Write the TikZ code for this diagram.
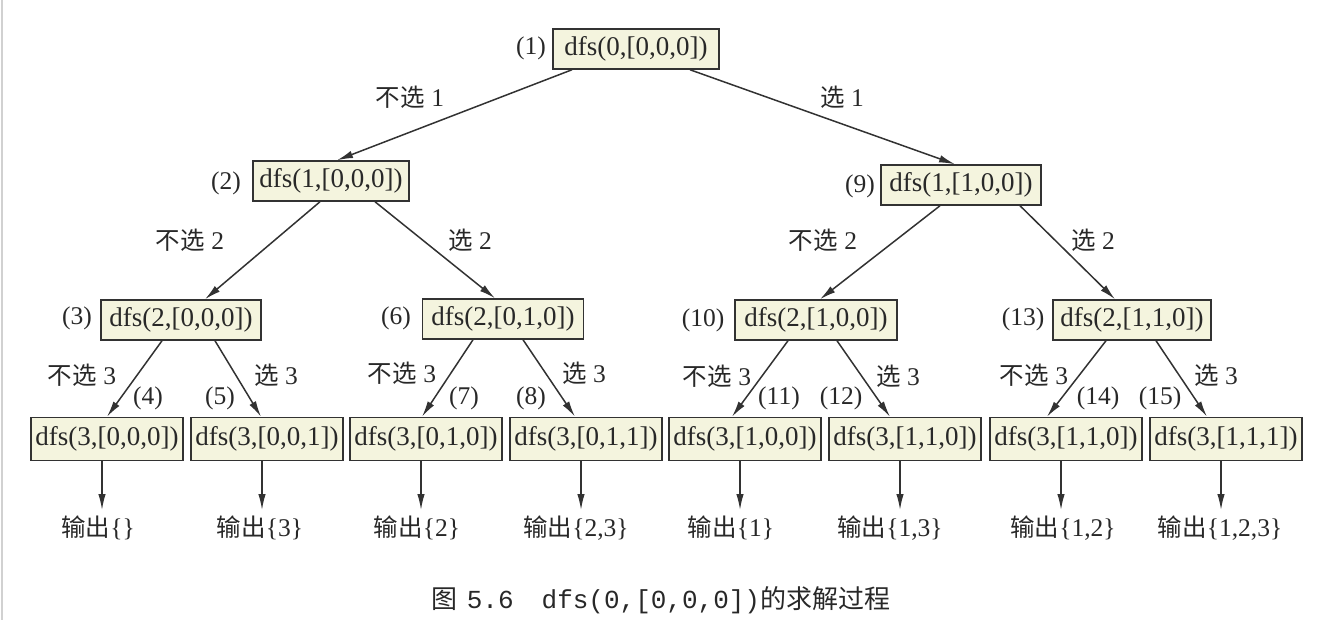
\documentclass[tikz,border=0pt]{standalone}
\usepackage{fontspec}
\setmainfont{Liberation Serif}
\newfontfamily\cjk{Noto Sans CJK SC}
\newfontfamily\monof{Liberation Mono}
\usetikzlibrary{arrows.meta}
\definecolor{linec}{RGB}{50,50,50}
\definecolor{textc}{RGB}{40,40,40}
\definecolor{boxfill}{RGB}{244,244,222}
\tikzset{
  dfsbox/.style={draw=linec, fill=boxfill, line width=1.5pt, inner xsep=0pt, inner ysep=0pt,
    minimum height=40pt, text=textc, font=\fontsize{27}{30}\selectfont},
  leafbox/.style={dfsbox, minimum width=152pt, minimum height=43pt},
  numlab/.style={text=textc, font=\fontsize{25.5}{28}\selectfont, inner sep=0pt},
  edgelab/.style={text=textc, font=\fontsize{25.5}{28}\selectfont, inner sep=0pt},
  outlab/.style={text=textc, font=\fontsize{25.5}{28}\selectfont, inner sep=0pt},
  conn/.style={draw=linec, line width=1.5pt, -{Latex[length=16pt,width=7.5pt]}},
}
\newcommand{\cj}[1]{{\cjk\fontsize{24.5}{28}\selectfont #1}}
\begin{document}
\begin{tikzpicture}[x=1pt,y=-1pt]
\useasboundingbox (0,0) rectangle (1320,620);
\draw[black!18, line width=2pt] (2,0) -- (2,620);
% tree nodes
\node[dfsbox, minimum width=166pt] (n1) at (636,49) {dfs(0,[0,0,0])};
\node[dfsbox, minimum width=156pt] (n2) at (331,181) {dfs(1,[0,0,0])};
\node[dfsbox, minimum width=160pt] (n9) at (961,185) {dfs(1,[1,0,0])};
\node[dfsbox, minimum width=160pt] (n3) at (181,320) {dfs(2,[0,0,0])};
\node[dfsbox, minimum width=161pt] (n6) at (503,319) {dfs(2,[0,1,0])};
\node[dfsbox, minimum width=162pt] (n10) at (816,320) {dfs(2,[1,0,0])};
\node[dfsbox, minimum width=158pt] (n13) at (1132,320) {dfs(2,[1,1,0])};
\node[leafbox] (n4) at (107,439) {dfs(3,[0,0,0])};
\node[leafbox] (n5) at (267,439) {dfs(3,[0,0,1])};
\node[leafbox] (n7) at (426,439) {dfs(3,[0,1,0])};
\node[leafbox] (n8) at (586,439) {dfs(3,[0,1,1])};
\node[leafbox] (n11) at (745,439) {dfs(3,[1,0,0])};
\node[leafbox] (n12) at (905,439) {dfs(3,[1,1,0])};
\node[leafbox] (n14) at (1066,439) {dfs(3,[1,1,0])};
\node[leafbox] (n15) at (1226,439) {dfs(3,[1,1,1])};
% number labels
\node[numlab] (l1) at (531,48) {(1)};
\node[numlab] (l2) at (226,183) {(2)};
\node[numlab] (l9) at (860,186) {(9)};
\node[numlab] (l3) at (77,318) {(3)};
\node[numlab] (l6) at (396,318) {(6)};
\node[numlab] (l10) at (703,320) {(10)};
\node[numlab] (l13) at (1023,319) {(13)};
\node[numlab] (l4) at (148,398) {(4)};
\node[numlab] (l5) at (220,398) {(5)};
\node[numlab] (l7) at (464,398) {(7)};
\node[numlab] (l8) at (531,398) {(8)};
\node[numlab] (l11) at (779,398) {(11)};
\node[numlab] (l12) at (841,398) {(12)};
\node[numlab] (l14) at (1098,398) {(14)};
\node[numlab] (l15) at (1160,398) {(15)};
% edge labels
\node[edgelab] (e12) at (410,97) {\cj{不选} 1};
\node[edgelab] (e19) at (842,97) {\cj{选} 1};
\node[edgelab] (e23) at (190,240) {\cj{不选} 2};
\node[edgelab] (e26) at (470,240) {\cj{选} 2};
\node[edgelab] (e910) at (823,240) {\cj{不选} 2};
\node[edgelab] (e913) at (1093,240) {\cj{选} 2};
\node[edgelab] (e34) at (82,375) {\cj{不选} 3};
\node[edgelab] (e35) at (276,375) {\cj{选} 3};
\node[edgelab] (e67) at (402,373) {\cj{不选} 3};
\node[edgelab] (e68) at (584,373) {\cj{选} 3};
\node[edgelab] (e1011) at (717,376) {\cj{不选} 3};
\node[edgelab] (e1012) at (898,376) {\cj{选} 3};
\node[edgelab] (e1314) at (1034,375) {\cj{不选} 3};
\node[edgelab] (e1315) at (1216,375) {\cj{选} 3};
% outputs
\node[outlab] (o4) at (98,528) {\cj{输出}\{\}};
\node[outlab] (o5) at (260,528) {\cj{输出}\{3\}};
\node[outlab] (o7) at (417,528) {\cj{输出}\{2\}};
\node[outlab] (o8) at (576,528) {\cj{输出}\{2,3\}};
\node[outlab] (o11) at (731,528) {\cj{输出}\{1\}};
\node[outlab] (o12) at (890,528) {\cj{输出}\{1,3\}};
\node[outlab] (o14) at (1063,528) {\cj{输出}\{1,2\}};
\node[outlab] (o15) at (1220,528) {\cj{输出}\{1,2,3\}};
% connectors
\draw[conn] ([xshift=-64pt]n1.south) -- ([xshift=6pt]n2.north);
\draw[conn] ([xshift=54pt]n1.south) -- ([xshift=-6pt]n9.north);
\draw[conn] ([xshift=-11pt]n2.south) -- ([xshift=24pt]n3.north);
\draw[conn] ([xshift=44pt]n2.south) -- ([xshift=-8pt]n6.north);
\draw[conn] ([xshift=-21pt]n9.south) -- ([xshift=4pt]n10.north);
\draw[conn] ([xshift=59pt]n9.south) -- ([xshift=-17pt]n13.north);
\draw[conn] ([xshift=-19pt]n3.south) -- ([xshift=0pt]n4.north);
\draw[conn] ([xshift=34pt]n3.south) -- ([xshift=-6pt]n5.north);
\draw[conn] ([xshift=-30pt]n6.south) -- ([xshift=-4pt]n7.north);
\draw[conn] ([xshift=20pt]n6.south) -- ([xshift=-11pt]n8.north);
\draw[conn] ([xshift=-28pt]n10.south) -- ([xshift=-13pt]n11.north);
\draw[conn] ([xshift=21pt]n10.south) -- ([xshift=-15pt]n12.north);
\draw[conn] ([xshift=-26pt]n13.south) -- ([xshift=-19pt]n14.north);
\draw[conn] ([xshift=24pt]n13.south) -- ([xshift=-19pt]n15.north);
\foreach \a/\b in {n4/o4,n5/o5,n7/o7,n8/o8,n11/o11,n12/o12,n14/o14,n15/o15}{
  \draw[conn] ([xshift=-5pt]\a.south) -- ([xshift=-5pt]\a.south |- 0,510);
}
% caption
\node[text=textc, inner sep=0pt] (cap) at (661,600)
  {{\cjk\fontsize{26}{28}\selectfont 图}\hspace{9pt}{\monof\fontsize{26}{28}\selectfont 5.6}\hspace{28pt}{\monof\fontsize{26}{28}\selectfont dfs(0,[0,0,0])}{\cjk\fontsize{26}{28}\selectfont 的求解过程}};
\end{tikzpicture}
\end{document}
